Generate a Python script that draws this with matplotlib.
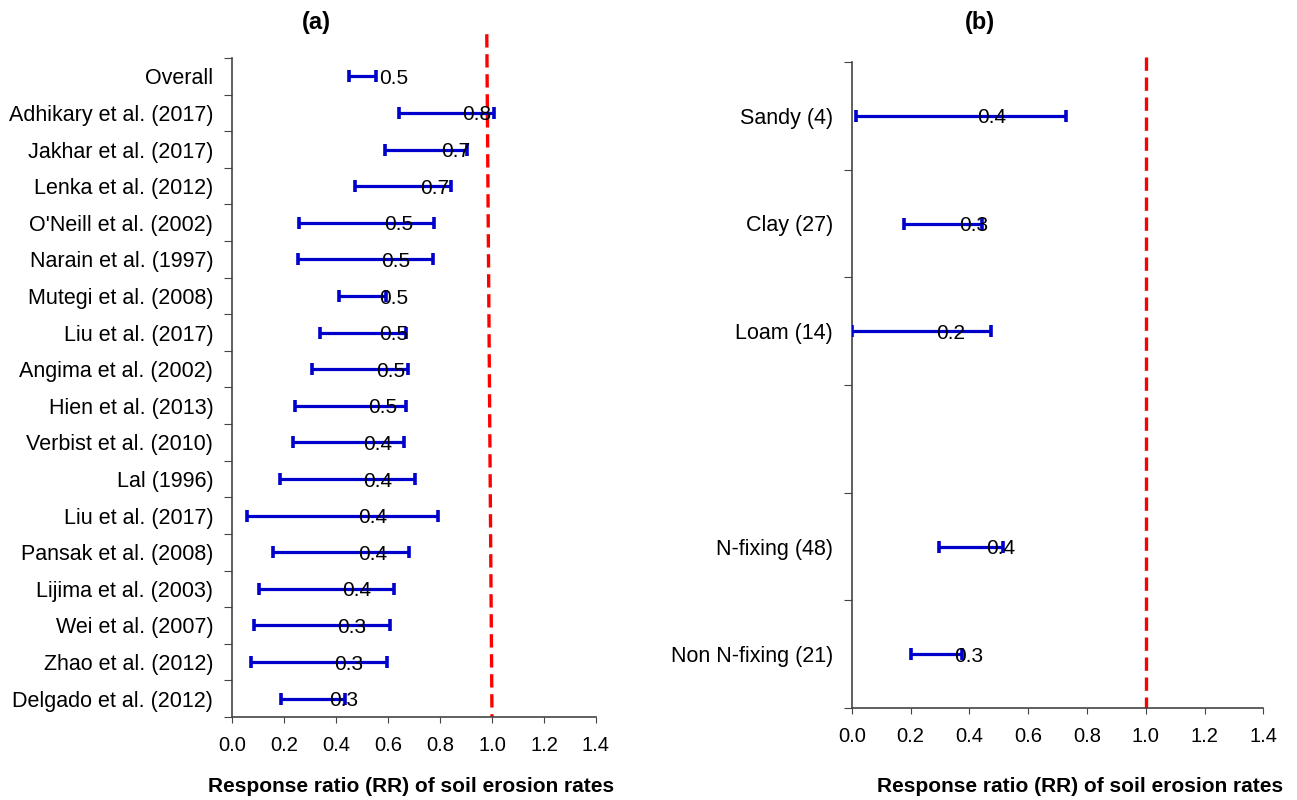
import numpy as np
from matplotlib import pyplot as plt

plt.rcParams['font.family'] = ['Liberation Sans', 'DejaVu Sans']

# panel (a): studies
studies = ['Overall', 'Adhikary et al. (2017)', 'Jakhar et al. (2017)', 'Lenka et al. (2012)',
           "O'Neill et al. (2002)", 'Narain et al. (1997)', 'Mutegi et al. (2008)',
           'Liu et al. (2017)', 'Angima et al. (2002)', 'Hien et al. (2013)',
           'Verbist et al. (2010)', 'Lal (1996)', 'Liu et al. (2017)', 'Pansak et al. (2008)',
           'Lijima et al. (2003)', 'Wei et al. (2007)', 'Zhao et al. (2012)', 'Delgado et al. (2012)']
rr_a = [0.50, 0.82, 0.74, 0.66, 0.52, 0.51, 0.50, 0.50, 0.49, 0.46,
        0.44, 0.44, 0.42, 0.42, 0.36, 0.34, 0.33, 0.31]
lo_a = [0.451, 0.641, 0.590, 0.474, 0.258, 0.255, 0.410, 0.337, 0.308, 0.243,
        0.236, 0.186, 0.059, 0.158, 0.103, 0.086, 0.074, 0.190]
hi_a = [0.553, 1.008, 0.904, 0.842, 0.778, 0.775, 0.591, 0.670, 0.678, 0.670,
        0.661, 0.705, 0.793, 0.679, 0.622, 0.606, 0.596, 0.436]

# panel (b): soil texture / legume type ('' = empty slot)
groups = ['Sandy (4)', 'Clay (27)', 'Loam (14)', '', 'N-fixing (48)', 'Non N-fixing (21)']
rr_b = [0.37, 0.31, 0.23, np.nan, 0.40, 0.29]
lo_b = [0.014, 0.179, 0.0, np.nan, 0.298, 0.202]
hi_b = [0.729, 0.442, 0.475, np.nan, 0.513, 0.374]

xticks = np.arange(0, 1.41, 0.2)
blue = '#0000CC'


def forest(ax, names, rr, lo, hi):
    n = len(names)
    rr, lo, hi = np.array(rr), np.array(lo), np.array(hi)
    y = np.arange(n) + 0.5
    ok = ~np.isnan(rr)
    ax.errorbar(rr[ok], y[ok], xerr=[rr[ok] - lo[ok], hi[ok] - rr[ok]], fmt='none',
                ecolor=blue, elinewidth=2.3, capsize=4.5, capthick=2.6, zorder=3)
    for v, yy in zip(rr[ok], y[ok]):
        ax.annotate('%.1f' % v, (v, yy), xytext=(12, -1.5), textcoords='offset points',
                    ha='left', va='center', fontsize=15, zorder=4)
    ax.set_xlim(0, 1.4)
    ax.set_ylim(n, 0)
    ax.set_xticks(xticks)
    ax.set_xticklabels(['%.1f' % t for t in xticks], fontsize=14.5)
    ax.set_yticks(np.arange(n + 1))
    ax.set_yticklabels([])
    ax.set_yticks(y, minor=True)
    ax.set_yticklabels(names, minor=True, fontsize=15.5)
    ax.tick_params(axis='y', which='minor', length=0, pad=13.5)
    ax.tick_params(axis='y', which='major', length=6, color='#444444')
    ax.tick_params(axis='x', length=4, color='#444444', pad=10)
    for s in ['top', 'right']:
        ax.spines[s].set_visible(False)
    for s in ['left', 'bottom']:
        ax.spines[s].set_color('#444444')
        ax.spines[s].set_linewidth(1.2)


fig = plt.figure(figsize=(12.97, 8), dpi=100)
ax1 = fig.add_axes([0.1789, 0.10375, 0.2806, 0.82375])
ax2 = fig.add_axes([0.6567, 0.115, 0.3174, 0.8075])

forest(ax1, studies, rr_a, lo_a, hi_a)
forest(ax2, groups, rr_b, lo_b, hi_b)

ax1.plot([0.98, 1.0], [-0.65, 18], color='red', lw=2.4, ls=(0, (4, 2)), clip_on=False, zorder=2)
ax2.plot([1.0, 1.0], [-0.05, 6], color='red', lw=2.4, ls=(0, (4, 2)), clip_on=False, zorder=2)

fig.text(316 / 1297, 1 - 22 / 800, '(a)', ha='center', va='center', fontsize=17, fontweight='bold')
fig.text(980 / 1297, 1 - 22 / 800, '(b)', ha='center', va='center', fontsize=17, fontweight='bold')
fig.text(411 / 1297, 1 - 787 / 800, 'Response ratio (RR) of soil erosion rates',
         ha='center', va='center', fontsize=15, fontweight='bold')
fig.text(1080 / 1297, 1 - 787 / 800, 'Response ratio (RR) of soil erosion rates',
         ha='center', va='center', fontsize=15, fontweight='bold')

plt.savefig('out.png', dpi=100)
